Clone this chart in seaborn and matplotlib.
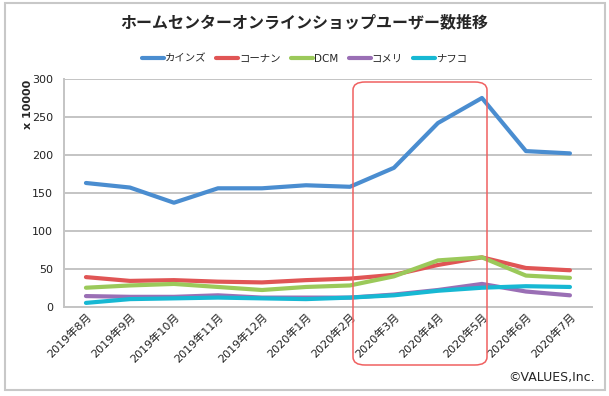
import matplotlib
matplotlib.use("Agg")
import matplotlib.pyplot as plt
from matplotlib.patches import FancyBboxPatch, Rectangle
import pandas as pd
import seaborn as sns

months = ['2019年8月', '2019年9月', '2019年10月', '2019年11月', '2019年12月', '2020年1月',
          '2020年2月', '2020年3月', '2020年4月', '2020年5月', '2020年6月', '2020年7月']
cainz = [163, 157, 137, 156, 156, 160, 158, 183, 242, 275, 205, 202]
kohnan = [39, 34, 35, 33, 32, 35, 37, 42, 55, 65, 51, 48]
dcm = [25, 28, 30, 26, 22, 26, 28, 40, 61, 65, 41, 38]
komeri = [14, 13, 13, 15, 12, 12, 12, 16, 22, 30, 20, 15]
nafco = [5, 10, 11, 12, 11, 10, 12, 15, 21, 25, 27, 26]
names = ['カインズ', 'コーナン', 'DCM', 'コメリ', 'ナフコ']
colors = ['#4a8dd0', '#e05555', '#9bc95a', '#9a6fb5', '#17b8d3']

rows = []
for name, vals in zip(names, [cainz, kohnan, dcm, komeri, nafco]):
    for m, v in zip(months, vals):
        rows.append({'month': m, 'store': name, 'users': v})
df = pd.DataFrame(rows)

sns.set_style("white")
plt.rcParams['font.family'] = ['DejaVu Sans', 'Noto Sans CJK JP']

fig = plt.figure(figsize=(6.09, 3.96), dpi=100)
ax = fig.add_axes([0.105, 0.2255, 0.867, 0.575])

sns.lineplot(data=df, x='month', y='users', hue='store', palette=colors,
             hue_order=names, sort=False, linewidth=3, ax=ax)

ax.set_ylim(0, 300)
ax.set_xlim(-0.5, len(months) - 0.5)
ax.set_yticks(range(0, 301, 50))
ax.yaxis.grid(True, color='#c4c4c4', linewidth=1.4)
ax.set_axisbelow(True)
for s in ['top', 'right']:
    ax.spines[s].set_visible(False)
ax.spines['left'].set_color('#c4c4c4')
ax.spines['bottom'].set_color('#c4c4c4')
ax.spines['left'].set_linewidth(1.4)
ax.spines['bottom'].set_linewidth(1.4)
ax.tick_params(axis='both', length=0, labelsize=8, colors='#222222')
ax.tick_params(axis='y', pad=8)
plt.setp(ax.get_xticklabels(), rotation=45, ha='right', va='top', rotation_mode='anchor')
ax.set_xlabel('')
ax.set_ylabel('x 10000', fontsize=8, fontweight='bold')
ax.yaxis.set_label_coords(-0.058, 0.89)

ax.legend(loc='center', bbox_to_anchor=(0.5, 0.852), bbox_transform=fig.transFigure,
          ncol=5, frameon=False, handlelength=2.1, columnspacing=1.0,
          handletextpad=0.1, prop={'family': ['DejaVu Sans', 'Noto Sans CJK JP'], 'size': 7.5})

fig.text(0.5, 0.944, 'ホームセンターオンラインショップユーザー数推移', ha='center', va='center',
         fontsize=11.5, fontweight='bold', family=['Noto Sans CJK JP', 'DejaVu Sans'])
fig.text(595 / 609, 1 - 378 / 396, '©VALUES,Inc.', ha='right', va='center', fontsize=9)

# red highlight box and outer frame
fig.patches.append(FancyBboxPatch((353 / 609, 1 - 365 / 396), 134 / 609, 283 / 396,
                                  boxstyle='round,pad=0,rounding_size=0.02',
                                  transform=fig.transFigure, fill=False,
                                  edgecolor='#f06060', linewidth=1.1))
fig.patches.append(Rectangle((5 / 609, 1 - 390 / 396), 600 / 609, 387 / 396,
                             transform=fig.transFigure, fill=False,
                             edgecolor='#c8c8c8', linewidth=1.5))

plt.savefig('out.png', dpi=100)
